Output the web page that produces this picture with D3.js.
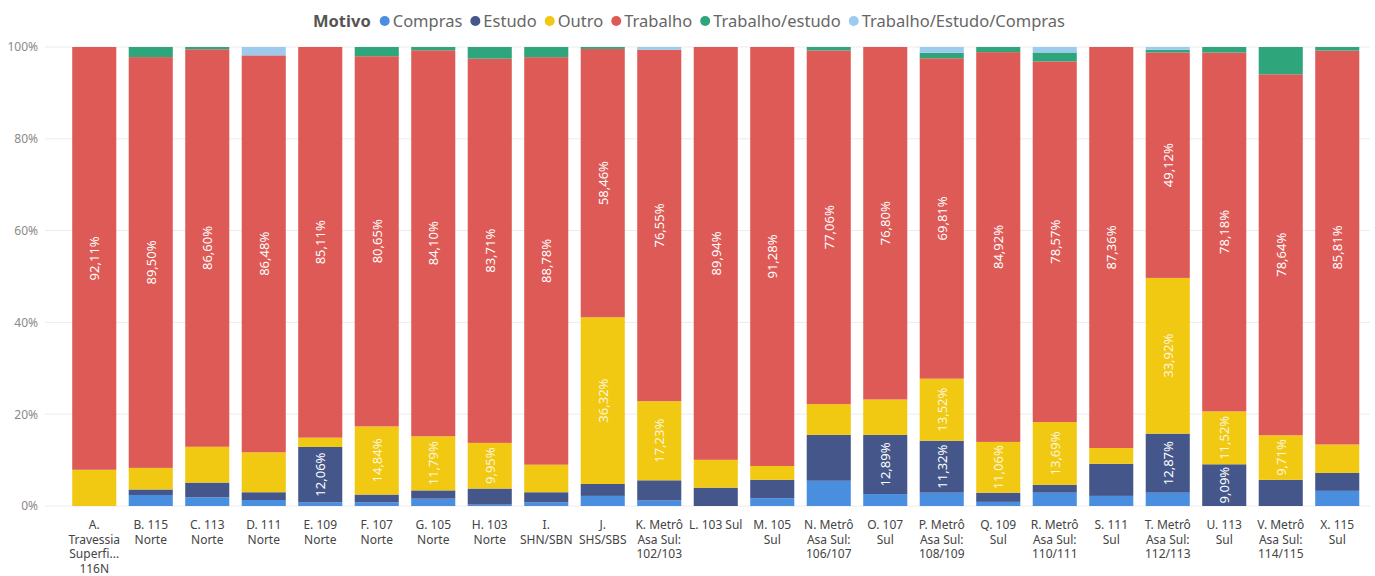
<!DOCTYPE html>
<html>
<head>
<meta charset="utf-8">
<script src="https://cdn.jsdelivr.net/npm/d3@7"></script>
<style>
  body { margin: 0; background: #fff; }
  svg { display: block; }
</style>
</head>
<body>
<svg id="chart" width="1375" height="576"></svg>
<script>
const categories = [
  "A. Travessia Superfi... 116N", "B. 115 Norte", "C. 113 Norte", "D. 111 Norte", "E. 109 Norte",
  "F. 107 Norte", "G. 105 Norte", "H. 103 Norte", "I. SHN/SBN", "J. SHS/SBS",
  "K. Metrô Asa Sul: 102/103", "L. 103 Sul", "M. 105 Sul", "N. Metrô Asa Sul: 106/107", "O. 107 Sul",
  "P. Metrô Asa Sul: 108/109", "Q. 109 Sul", "R. Metrô Asa Sul: 110/111", "S. 111 Sul",
  "T. Metrô Asa Sul: 112/113", "U. 113 Sul", "V. Metrô Asa Sul: 114/115", "X. 115 Sul"
];
const seriesNames = ["Compras", "Estudo", "Outro", "Trabalho", "Trabalho/estudo", "Trabalho/Estudo/Compras"];
const compras        = [0, 2.4, 1.9, 1.3, 0.8, 0.8, 1.6, 0.3, 0.8, 2.2, 1.2, 0, 1.7, 5.5, 2.6, 2.9, 0.9, 2.9, 2.2, 2.9, 0, 0, 3.3];
const estudo         = [0, 1.2, 3.2, 1.7, 12.06, 1.7, 1.8, 3.5, 2.2, 2.6, 4.4, 4.0, 4.0, 10.0, 12.89, 11.32, 2.0, 1.7, 7.0, 12.87, 9.09, 5.7, 3.9];
const outro          = [7.89, 4.7, 7.8, 8.7, 2.03, 14.84, 11.79, 9.95, 6.0, 36.32, 17.23, 6.06, 3.02, 6.7, 7.71, 13.52, 11.06, 13.69, 3.44, 33.92, 11.52, 9.71, 6.2];
const trabalho       = [92.11, 89.50, 86.60, 86.48, 85.11, 80.65, 84.10, 83.71, 88.78, 58.46, 76.55, 89.94, 91.28, 77.06, 76.80, 69.81, 84.92, 78.57, 87.36, 49.12, 78.18, 78.64, 85.81];
const trabEstudo     = [0, 2.2, 0.5, 0, 0, 2.01, 0.71, 2.54, 2.22, 0.42, 0, 0, 0, 0.74, 0, 1.2, 1.12, 1.94, 0, 0.59, 1.21, 5.95, 0.79];
const trabEstCompras = [0, 0, 0, 1.82, 0, 0, 0, 0, 0, 0, 0.62, 0, 0, 0, 0, 1.25, 0, 1.2, 0, 0.6, 0, 0, 0];
const yTickValues = [0, 20, 40, 60, 80, 100];
const yTickLabels = ["0%", "20%", "40%", "60%", "80%", "100%"];
const legendTitle = "Motivo";

const colors = ["#4A8EDF", "#45578A", "#F1C812", "#DE5A56", "#2EA57A", "#9DCBEE"];
const seriesArrays = [compras, estudo, outro, trabalho, trabEstudo, trabEstCompras];

const table = categories.map((c, i) => {
  const row = { cat: c };
  seriesNames.forEach((s, k) => row[s] = seriesArrays[k][i]);
  return row;
});

const svg = d3.select("#chart");
const FONT = "'Segoe UI', 'Noto Sans', sans-serif";

const x = d3.scaleBand().domain(categories).range([66, 66 + 23 * 56.5])
  .paddingInner(0.22).paddingOuter(0.11);
const y = d3.scaleLinear().domain([0, 100]).range([506, 47]);

// gridlines
svg.append("g").selectAll("line").data(yTickValues).join("line")
  .attr("x1", 45).attr("x2", 1370)
  .attr("y1", d => y(d)).attr("y2", d => y(d))
  .attr("stroke", "#ececec").attr("stroke-width", 1);

// y axis
const yAxis = d3.axisLeft(y).tickValues(yTickValues)
  .tickFormat((d, i) => yTickLabels[i]).tickSize(0).tickPadding(8);
const gy = svg.append("g").attr("transform", "translate(46,0)").call(yAxis);
gy.select(".domain").remove();
gy.selectAll("text").attr("font-family", FONT).attr("font-size", 12).attr("fill", "#8a8a8a");

// stacks
const stack = d3.stack().keys(seriesNames);
const stacked = stack(table);

const layers = svg.append("g").selectAll("g").data(stacked).join("g")
  .attr("fill", (d, i) => colors[i]);
layers.selectAll("rect").data(d => d).join("rect")
  .attr("x", d => x(d.data.cat))
  .attr("width", x.bandwidth())
  .attr("y", d => y(d[1]))
  .attr("height", d => Math.max(0, y(d[0]) - y(d[1])));

// data labels
const fmt = v => v.toFixed(2).replace(".", ",") + "%";
const labelG = svg.append("g");
stacked.forEach((layer, k) => {
  layer.forEach(d => {
    const v = d[1] - d[0];
    if (v <= 0) return;
    const h = y(d[0]) - y(d[1]);
    const cx = x(d.data.cat) + x.bandwidth() / 2;
    const cy = (y(d[0]) + y(d[1])) / 2;
    const lbl = labelG.append("text")
      .attr("transform", `translate(${cx},${cy}) rotate(-90)`)
      .attr("text-anchor", "middle")
      .attr("dominant-baseline", "central")
      .attr("font-family", FONT)
      .attr("font-size", 13)
      .attr("fill", k === 2 ? "#fdf6dc" : "#ffffff")
      .text(fmt(seriesArrays[k][categories.indexOf(d.data.cat)]));
    if (lbl.node().getComputedTextLength() + 4.2 > h) lbl.remove();
  });
});

// x labels with word wrapping
const xg = svg.append("g");
const probe = svg.append("text").attr("font-family", FONT).attr("font-size", 12);
const measure = s => { probe.text(s); return probe.node().getComputedTextLength(); };
const maxW = measure("L. 103 Sul") + 0.15;
const wrapped = categories.map(c => {
  const words = c.split(/\s+/);
  const lines = [];
  let cur = "";
  words.forEach(w => {
    const test = cur ? cur + " " + w : w;
    if (measure(test) > maxW && cur) { lines.push(cur); cur = w; }
    else cur = test;
  });
  if (cur) lines.push(cur);
  return lines;
});
probe.remove();
categories.forEach((c, ci) => {
  const cx = x(c) + x.bandwidth() / 2;
  const txt = xg.append("text").attr("x", cx).attr("y", 529)
    .attr("text-anchor", "middle").attr("font-family", FONT)
    .attr("font-size", 12).attr("fill", "#444");
  wrapped[ci].forEach((l, i) => {
    txt.append("tspan").attr("x", cx).attr("y", 529 + i * 14.6).text(l);
  });
});

// legend
const lg = svg.append("g");
let lx = 313;
const ly = 27;
const LFS = 16.5;
const title = lg.append("text").attr("x", lx).attr("y", ly)
  .attr("font-family", FONT).attr("font-size", LFS).attr("font-weight", "bold")
  .attr("fill", "#555").text(legendTitle);
lx += title.node().getComputedTextLength() + 14;
seriesNames.forEach((s, i) => {
  lg.append("circle").attr("cx", lx).attr("cy", ly - 6).attr("r", 5).attr("fill", colors[i]);
  const lt = lg.append("text").attr("x", lx + 8).attr("y", ly)
    .attr("font-family", FONT).attr("font-size", LFS).attr("fill", "#666").text(s);
  lx += 8 + lt.node().getComputedTextLength() + 13;
});
</script>
</body>
</html>
